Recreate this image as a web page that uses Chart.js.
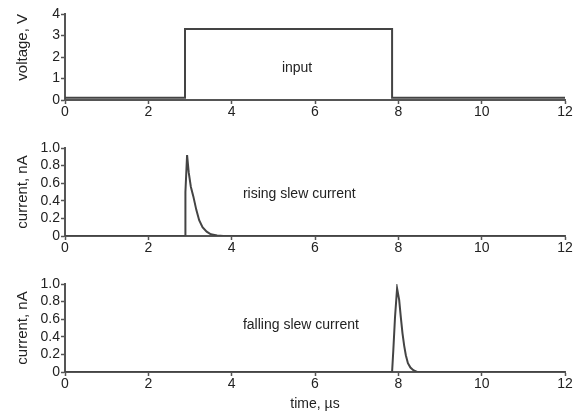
<!DOCTYPE html>
<html>
<head>
<meta charset="utf-8">
<script src="https://cdn.jsdelivr.net/npm/chart.js@4.4.0/dist/chart.umd.min.js"></script>
<style>
    html, body { margin: 0; padding: 0; background: #fff; }
    body { width: 578px; height: 416px; position: relative; overflow: hidden; }
    .panel { position: absolute; left: 0; width: 578px; }
    .panel canvas { display: block; }
</style>
</head>
<body>
<div class="panel" style="top:0;height:125px"><canvas id="inputChart" width="578" height="125"></canvas></div>
<div class="panel" style="top:134px;height:125px"><canvas id="risingChart" width="578" height="125"></canvas></div>
<div class="panel" style="top:270px;height:146px"><canvas id="fallingChart" width="578" height="146"></canvas></div>
<script>
// ============================================
// DATA
// ============================================
const xTicks = ['0', '2', '4', '6', '8', '10', '12'];
const voltageTicks = ['0', '1', '2', '3', '4'];
const currentTicks = ['0', '0.2', '0.4', '0.6', '0.8', '1.0'];

// input voltage step (time in µs, volts)
const inputTime = [0, 2.88, 2.88, 7.85, 7.85, 12];
const inputVolts = [0.1, 0.1, 3.3, 3.3, 0.1, 0.1];

// rising slew current (time in µs, nA)
const risingTime = [0, 2.88, 2.89, 2.93, 2.97, 3.02, 3.08, 3.15, 3.22, 3.3, 3.4, 3.5, 3.65, 3.8, 12];
const risingCurrent = [0, 0, 0.5, 0.92, 0.72, 0.56, 0.45, 0.3, 0.18, 0.1, 0.05, 0.02, 0.005, 0, 0];

// falling slew current (time in µs, nA)
const fallingTime = [0, 7.85, 7.88, 7.92, 7.97, 8.02, 8.06, 8.1, 8.14, 8.18, 8.23, 8.29, 8.36, 8.45, 12];
const fallingCurrent = [0, 0, 0.25, 0.62, 0.95, 0.82, 0.62, 0.44, 0.3, 0.19, 0.1, 0.05, 0.02, 0, 0];

// ============================================
// SHARED STYLE
// ============================================
const FONT = "'Liberation Sans', Arial, sans-serif";
const AXIS = '#555';
const LINE = '#444';
const TEXT = '#222';

Chart.defaults.font.family = FONT;
Chart.defaults.font.size = 14;
Chart.defaults.color = TEXT;

const toPoints = (xs, ys) => xs.map((x, i) => ({ x: x, y: ys[i] }));

// draws a free text label at data coordinates
const labelPlugin = {
    id: 'panelLabel',
    afterDatasetsDraw(chart, args, opts) {
        if (!opts || !opts.text) return;
        const ctx = chart.ctx;
        ctx.save();
        ctx.font = '14px ' + FONT;
        ctx.fillStyle = TEXT;
        ctx.textAlign = opts.align || 'left';
        ctx.textBaseline = 'middle';
        ctx.fillText(opts.text, chart.scales.x.getPixelForValue(opts.x), chart.scales.y.getPixelForValue(opts.y));
        ctx.restore();
    }
};

function makePanel(id, points, yMax, yStep, yLabels, yTitle, yTitleAlign, label, xTitle, xHeight) {
    return new Chart(document.getElementById(id), {
        type: 'line',
        data: {
            datasets: [{
                data: points,
                borderColor: LINE,
                borderWidth: 2,
                pointRadius: 0,
                fill: false,
                tension: 0
            }]
        },
        options: {
            responsive: false,
            animation: false,
            layout: { padding: { top: 14, right: 13, bottom: 0, left: 0 } },
            plugins: {
                legend: { display: false },
                tooltip: { enabled: false },
                panelLabel: label
            },
            scales: {
                x: {
                    type: 'linear',
                    min: 0,
                    max: 12,
                    afterFit: (scale) => { scale.height = xHeight; },
                    grid: { drawOnChartArea: false, tickLength: 4, tickColor: AXIS, tickWidth: 1.5 },
                    border: { display: true, color: AXIS, width: 2 },
                    ticks: {
                        stepSize: 2,
                        padding: 0,
                        color: TEXT,
                        maxRotation: 0,
                        autoSkip: false,
                        callback: (v) => xTicks[Math.round(v / 2)]
                    },
                    title: {
                        display: !!xTitle,
                        text: xTitle,
                        color: TEXT,
                        font: { size: 14 },
                        padding: { top: 0, bottom: 3 }
                    }
                },
                y: {
                    type: 'linear',
                    min: 0,
                    max: yMax,
                    afterFit: (scale) => { scale.width = 65; },
                    grid: { drawOnChartArea: false, tickLength: 4, tickColor: AXIS, tickWidth: 1.5 },
                    border: { display: true, color: AXIS, width: 2 },
                    ticks: {
                        stepSize: yStep,
                        padding: 1,
                        color: TEXT,
                        autoSkip: false,
                        callback: (v) => yLabels[Math.round(v / yStep)]
                    },
                    title: {
                        display: true,
                        text: yTitle,
                        align: yTitleAlign,
                        color: TEXT,
                        font: { size: 15 },
                        padding: { top: 14, bottom: 0 }
                    }
                }
            }
        },
        plugins: [labelPlugin]
    });
}

makePanel('inputChart', toPoints(inputTime, inputVolts), 4, 1, voltageTicks,
    'voltage, V', 'end', { text: 'input', x: 5.57, y: 1.5, align: 'center' }, '', 25);

makePanel('risingChart', toPoints(risingTime, risingCurrent), 1, 0.2, currentTicks,
    'current, nA', 'center', { text: 'rising slew current', x: 4.27, y: 0.48, align: 'left' }, '', 23);

makePanel('fallingChart', toPoints(fallingTime, fallingCurrent), 1, 0.2, currentTicks,
    'current, nA', 'center', { text: 'falling slew current', x: 4.27, y: 0.53, align: 'left' }, 'time, µs', 44);
</script>
</body>
</html>
